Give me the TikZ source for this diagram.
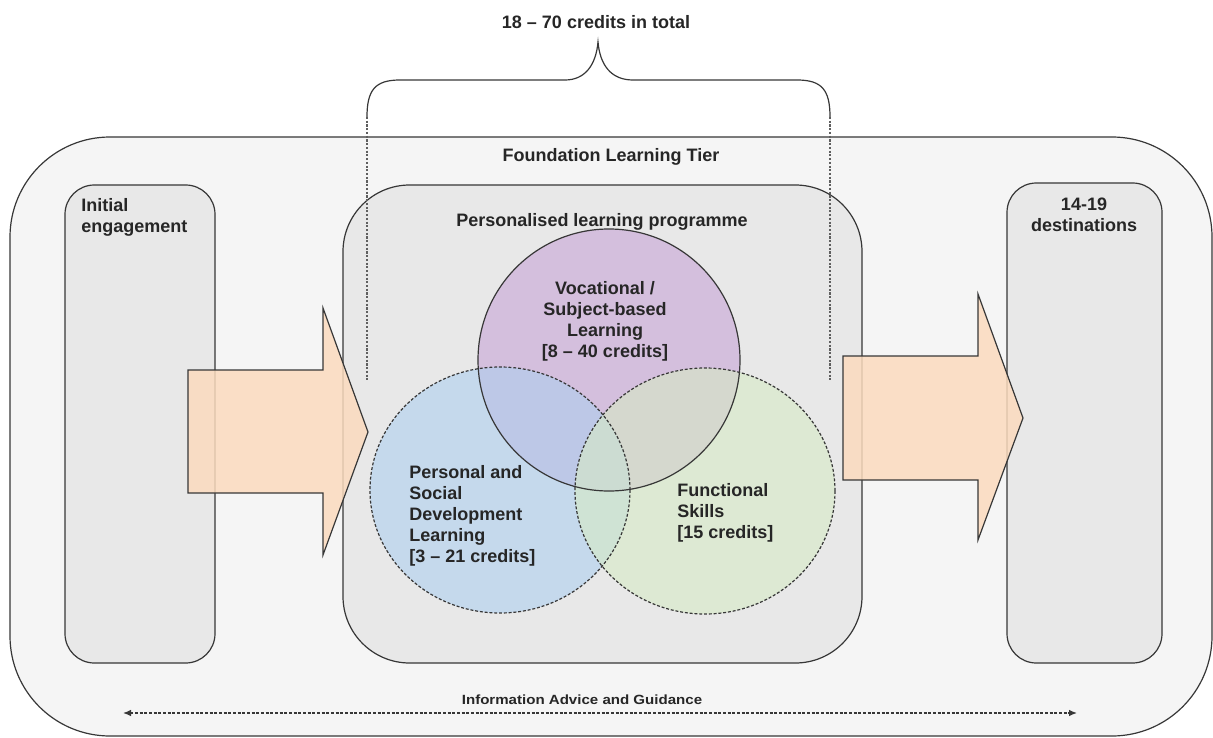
\documentclass[tikz,border=0pt]{standalone}
\usepackage{fontspec}
\setmainfont{Liberation Sans}
\usetikzlibrary{arrows.meta}

\definecolor{tierbg}{RGB}{245,245,245}
\definecolor{boxbg}{RGB}{232,232,232}
\definecolor{vocfill}{RGB}{199,165,215}
\definecolor{psdfill}{RGB}{174,207,239}
\definecolor{funfill}{RGB}{214,234,197}
\definecolor{arrowfill}{RGB}{251,219,190}
\definecolor{edge}{RGB}{55,55,55}

\tikzset{
  box/.style={draw=edge, line width=0.9pt},
  lbl/.style={font=\fontsize{13.5}{15.75}\selectfont\bfseries, text=black!85, inner sep=0pt},
  venn/.style={draw=edge, line width=0.9pt, fill opacity=0.6},
  venndash/.style={venn, dash pattern=on 2.2pt off 1.4pt},
  bigarrow/.style={draw=edge, line width=0.9pt, fill=arrowfill, fill opacity=0.85},
  guide/.style={draw=edge!80, line width=0.8pt, dash pattern=on 1.6pt off 1.2pt},
}

\begin{document}
\begin{tikzpicture}[x=0.75pt, y=-0.75pt]
  \useasboundingbox (0,0) rectangle (1213,738);

  % tier and boxes
  \draw[box, fill=tierbg, rounded corners=75pt] (10,137) rectangle (1212,736);
  \draw[box, fill=boxbg, rounded corners=22pt] (65,185) rectangle (215,663);
  \draw[box, fill=boxbg, rounded corners=22pt] (1007,183) rectangle (1162,663);
  \draw[box, fill=boxbg, rounded corners=50pt] (343,185) rectangle (862,663);

  \node[lbl] (tier) at (611,157) {Foundation Learning Tier};
  \node[lbl] (plp) at (602,222) {Personalised learning programme};
  \node[lbl, align=left, anchor=north west] (init) at (81,198) {Initial\\engagement};
  \node[lbl, align=center, anchor=north] (dest) at (1084,198) {14-19\\destinations};

  % brace over the programme
  \node[lbl] (total) at (596,22) {18 -- 70 credits in total};
  \draw[edge, line width=0.9pt] (367,117) .. controls (367,90) and (375,80) .. (400,80)
    -- (565,80) .. controls (585,80) and (596,65) .. (598,42)
    .. controls (600,65) and (611,80) .. (633,80)
    -- (797,80) .. controls (822,80) and (830,90) .. (830,117);
  \draw[guide] (367,117) -- (367,380);
  \draw[guide] (830,117) -- (830,380);

  % the three strands
  \fill[vocfill, fill opacity=0.6] (609,360) circle[radius=131];
  \fill[psdfill, fill opacity=0.6] (500,490) ellipse[x radius=130, y radius=123];
  \fill[funfill, fill opacity=0.6] (705,491) ellipse[x radius=130, y radius=123];
  \draw[venn] (609,360) circle[radius=131];
  \draw[venndash] (500,490) ellipse[x radius=130, y radius=123];
  \draw[venndash] (705,491) ellipse[x radius=130, y radius=123];

  \node[lbl, align=center, anchor=north] (voc) at (605,281) {Vocational /\\Subject-based\\Learning\\{[8 -- 40 credits]}};
  \node[lbl, align=left, anchor=north west] (psd) at (409,465) {Personal and\\Social\\Development\\Learning\\{[3 -- 21 credits]}};
  \node[lbl, align=left, anchor=north west] (fun) at (677,483) {Functional\\Skills\\{[15 credits]}};

  % progression arrows
  \draw[bigarrow] (188,370) -- (323,370) -- (323,308) -- (368,432) -- (323,555) -- (323,493) -- (188,493) -- cycle;
  \draw[bigarrow] (843,356) -- (978,356) -- (978,294) -- (1023,418) -- (978,540) -- (978,480) -- (843,480) -- cycle;

  % IAG line
  \node[lbl, font=\fontsize{10}{12}\selectfont\bfseries] (iag) at (582,700) {\scalebox{1.13}[1]{Information Advice and Guidance}};
  \coordinate (iagL) at (123,713);
  \coordinate (iagR) at (1077,713);
  \draw[edge, line width=1pt, dash pattern=on 2.2pt off 1.3pt, {Latex[length=6pt,width=5pt]}-{Latex[length=6pt,width=5pt]}] (iagL) -- (iagR);
\end{tikzpicture}
\end{document}
